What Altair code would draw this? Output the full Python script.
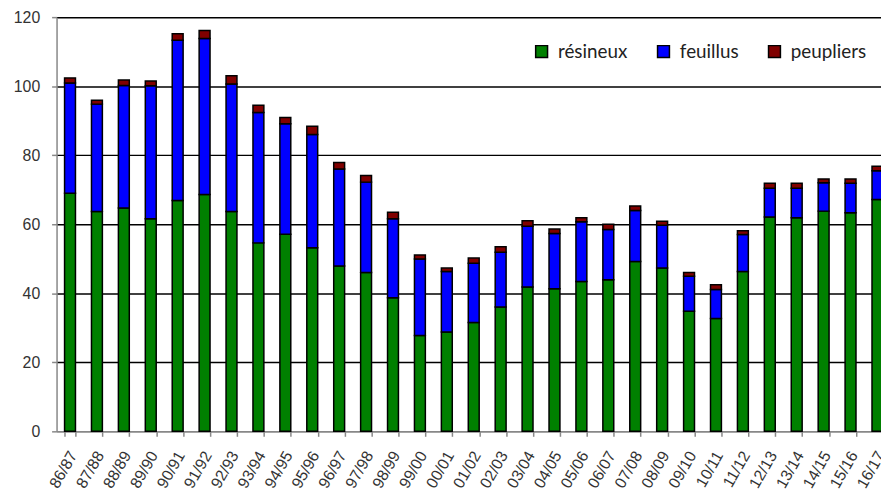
import altair as alt
import pandas as pd

seasons = ["86/87", "87/88", "88/89", "89/90", "90/91", "91/92", "92/93", "93/94",
           "94/95", "95/96", "96/97", "97/98", "98/99", "99/00", "00/01", "01/02",
           "02/03", "03/04", "04/05", "05/06", "06/07", "07/08", "08/09", "09/10",
           "10/11", "11/12", "12/13", "13/14", "14/15", "15/16", "16/17"]

resineux = [69.0, 63.7, 64.7, 61.6, 66.9, 68.6, 63.7, 54.6, 57.1, 53.2, 47.9, 46.0,
            38.7, 27.8, 28.8, 31.5, 36.0, 41.8, 41.3, 43.4, 43.9, 49.2, 47.3, 34.8,
            32.7, 46.3, 62.1, 61.9, 63.8, 63.3, 67.2]
feuillus = [31.9, 31.1, 35.5, 38.5, 46.4, 45.2, 36.9, 37.8, 32.0, 32.8, 28.1, 26.2,
            22.9, 22.1, 17.5, 17.2, 15.9, 17.6, 16.0, 17.3, 14.6, 14.8, 12.4, 10.1,
            8.4, 10.7, 8.3, 8.5, 8.2, 8.6, 8.3]
peupliers = [1.5, 1.1, 1.6, 1.4, 1.9, 2.3, 2.4, 2.1, 1.8, 2.4, 1.9, 1.9, 1.9, 1.2,
             1.0, 1.5, 1.6, 1.6, 1.3, 1.2, 1.5, 1.3, 1.2, 1.1, 1.4, 1.1, 1.5, 1.5,
             1.1, 1.2, 1.3]

series_names = ["résineux", "feuillus", "peupliers"]
series_colors = ["#008000", "#0000FF", "#800000"]

rows = []
for i, s in enumerate(seasons):
    for k, (name, vals) in enumerate(zip(series_names, [resineux, feuillus, peupliers])):
        rows.append({"saison": s, "type": name, "valeur": vals[i], "ordre": k})
df = pd.DataFrame(rows)

chart = alt.Chart(df).mark_bar(stroke="black", strokeWidth=1.5).encode(
    x=alt.X("saison:N", sort=seasons, title=None,
            scale=alt.Scale(range=[0, 842], paddingInner=0.595, paddingOuter=0.2975),
            axis=alt.Axis(labelAngle=300, labelFont="Liberation Sans", labelFontSize=16,
                          labelColor="#333", labelPadding=16, labelOffset=3,
                          tickBand="extent",
                          tickSize=5, tickColor="#888", domainColor="#888",
                          domainWidth=1.5, tickWidth=1.5, labelOverlap=False,
                          grid=False)),
    y=alt.Y("valeur:Q", stack="zero", title=None,
            scale=alt.Scale(domain=[0, 120], nice=False),
            axis=alt.Axis(values=[0, 20, 40, 60, 80, 100, 120], grid=True,
                          gridColor={"condition": {"test": "datum.value === 0", "value": "#888"},
                                     "value": "black"},
                          gridWidth=1.5, domainColor="#888", domainWidth=1.5,
                          tickColor="#888", tickWidth=1.5, tickSize=5,
                          labelFont="Liberation Sans", labelFontSize=16,
                          labelColor="#333", labelPadding=12)),
    color=alt.Color("type:N", sort=series_names,
                    scale=alt.Scale(domain=series_names, range=series_colors),
                    legend=alt.Legend(title=None, orient="none", legendX=480, legendY=25,
                                      direction="horizontal", symbolType="square",
                                      symbolSize=144, symbolStrokeColor="black",
                                      symbolStrokeWidth=1.5, labelFont="Lato",
                                      labelFontSize=19, labelColor="#222",
                                      labelOffset=7, columnPadding=26)),
    order=alt.Order("ordre:Q", sort="ascending"),
).properties(
    width=832, height=418,
    autosize=alt.AutoSizeParams(type="none"),
    padding={"left": 49, "top": 7, "right": 0, "bottom": 60},
).configure_view(stroke=None)

chart.save("out.html", embed_options={"renderer": "svg", "actions": False})
